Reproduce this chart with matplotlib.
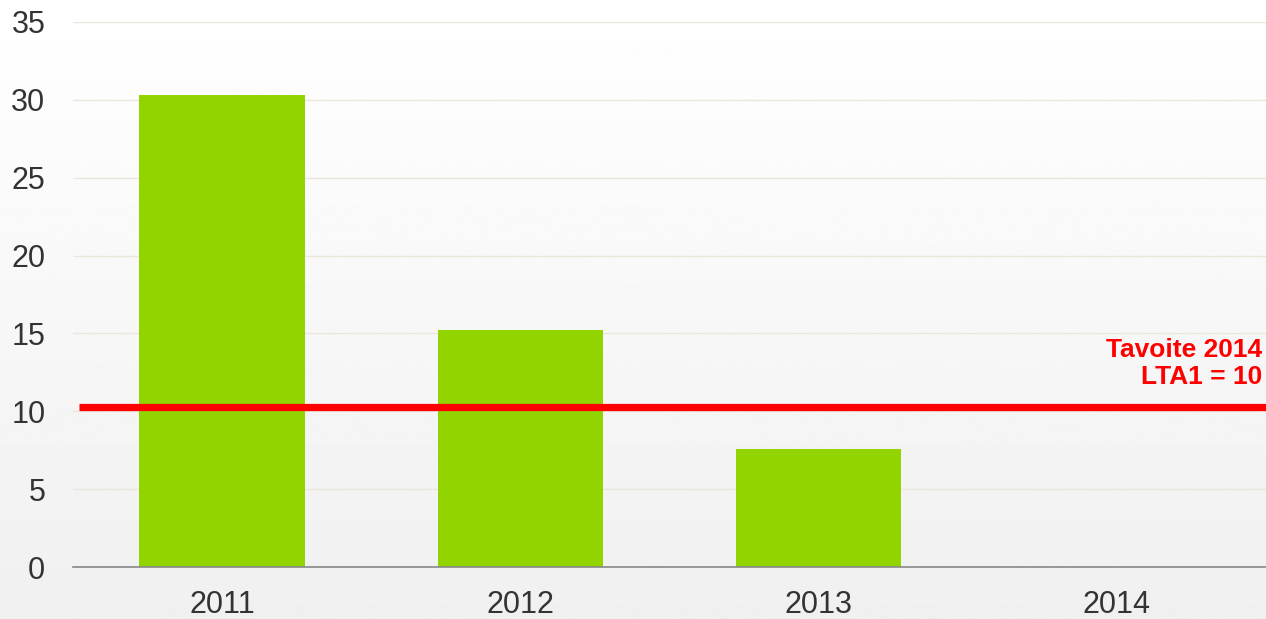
import numpy as np
import matplotlib.pyplot as plt

years = ["2011", "2012", "2013", "2014"]
values = [30.3, 15.2, 7.6, 0]
target = 10.3
target_label = "Tavoite 2014\nLTA1 = 10"

plt.rcParams["font.family"] = ["Liberation Sans", "DejaVu Sans"]

fig = plt.figure(figsize=(12.66, 6.19), dpi=100)

# soft vertical gradient behind everything
bg = fig.add_axes([0, 0, 1, 1], zorder=-1)
grad = np.linspace(1.0, 0.94, 256).reshape(-1, 1)
bg.imshow(grad, aspect="auto", cmap="gray", vmin=0, vmax=1, extent=[0, 1, 0, 1])
bg.axis("off")

ax = fig.add_axes([0.0577, 0.084, 0.9423, 0.8805])
ax.patch.set_alpha(0)

x = np.arange(len(years))
ax.bar(x, values, width=0.555, color="#92d400", zorder=2)
ax.plot([-0.48, 3.5], [target, target], color="#ff0000", lw=5.2, zorder=3,
        solid_capstyle="butt")
ax.text(3.487, target + 1.1, target_label, ha="right", va="bottom",
        color="#ff0000", fontsize=19, fontweight="bold", linespacing=1.2)

ax.set_xlim(-0.5, 3.5)
ax.set_ylim(0, 35)
ax.set_yticks(range(0, 36, 5))
ax.set_xticks(x)
ax.set_xticklabels(years)
for v in range(5, 36, 5):
    ax.axhline(v, color="#ebe6dc", lw=1, zorder=1)

ax.tick_params(axis="y", length=0, pad=20, labelsize=22, labelcolor="#333333")
ax.tick_params(axis="x", length=0, pad=16.5, labelsize=22, labelcolor="#333333")
for s in ["top", "right", "left"]:
    ax.spines[s].set_visible(False)
ax.spines["bottom"].set_color("#888888")
ax.spines["bottom"].set_linewidth(1.2)

fig.savefig("out.png", dpi=100)
